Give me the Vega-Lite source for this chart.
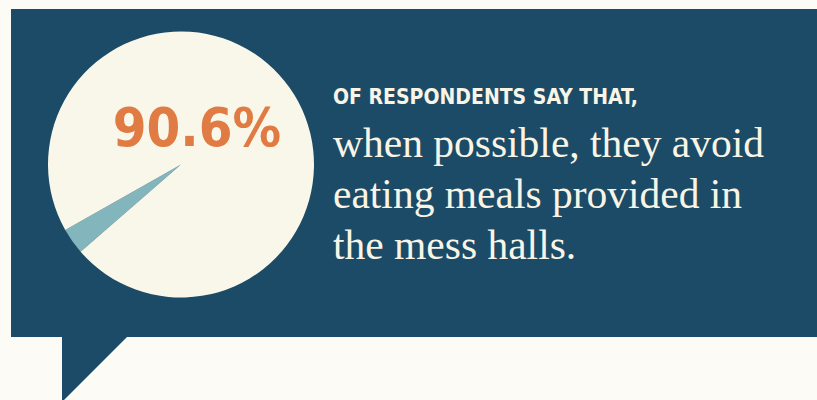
{
  "$schema": "https://vega.github.io/schema/vega-lite/v6.json",
  "width": 817,
  "height": 400,
  "padding": 0,
  "autosize": {"type": "none"},
  "background": "#FCFBF5",
  "config": {"view": {"stroke": null}},
  "layer": [
    {
      "data": {"values": [{"shape": "box"}]},
      "mark": {"type": "rect", "x": 11, "x2": 817, "y": 9, "y2": 337, "color": "#1C4B67"},
      "encoding": {}
    },
    {
      "data": {"values": [{"shape": "tail"}]},
      "mark": {"type": "point", "shape": "M0,0L1,0L0,1Z", "size": 17424, "x": 62, "y": 336, "filled": true, "opacity": 1, "color": "#1C4B67", "strokeWidth": 0},
      "encoding": {}
    },
    {
      "data": {"values": [
        {"answer": "No", "pct": 3.2},
        {"answer": "Yes", "pct": 96.8}
      ]},
      "mark": {"type": "arc", "x": 181, "y": 164.5, "outerRadius": 133, "stroke": null},
      "encoding": {
        "theta": {"field": "pct", "type": "quantitative", "stack": true, "scale": {"range": [3.997, 10.280]}},
        "color": {"field": "answer", "type": "nominal", "legend": null, "scale": {"domain": ["No", "Yes"], "range": ["#83B5BC", "#F9F7EA"]}}
      }
    },
    {
      "data": {"values": [{"label": "90.6%"}]},
      "mark": {"type": "text", "x": 197, "y": 146, "align": "center", "baseline": "alphabetic", "font": "DejaVu Sans Condensed", "fontWeight": "bold", "fontSize": 54, "color": "#E07C43"},
      "encoding": {"text": {"field": "label"}}
    },
    {
      "data": {"values": [{"label": "OF RESPONDENTS SAY THAT,"}]},
      "mark": {"type": "text", "x": 333, "y": 104, "align": "left", "baseline": "alphabetic", "font": "DejaVu Sans Condensed", "fontWeight": "bold", "fontSize": 21, "color": "#F9F5E6"},
      "encoding": {"text": {"field": "label"}}
    },
    {
      "data": {"values": [{"label": ["when possible, they avoid", "eating meals provided in", "the mess halls."]}]},
      "mark": {"type": "text", "x": 333, "y": 157, "align": "left", "baseline": "alphabetic", "font": "Liberation Serif", "fontSize": 41.5, "lineHeight": 51, "color": "#F9F5E6"},
      "encoding": {"text": {"field": "label"}}
    }
  ]
}
